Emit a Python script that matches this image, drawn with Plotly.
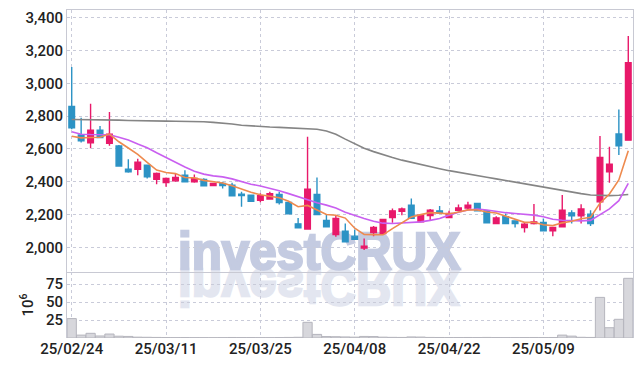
import base64
import plotly.graph_objects as go
from plotly.subplots import make_subplots

dates = ["25/02/24", "25/02/25", "25/02/26", "25/02/27", "25/02/28",
         "25/03/04", "25/03/05", "25/03/06", "25/03/07", "25/03/10",
         "25/03/11", "25/03/12", "25/03/13", "25/03/14", "25/03/17",
         "25/03/18", "25/03/19", "25/03/20", "25/03/21", "25/03/24",
         "25/03/25", "25/03/26", "25/03/27", "25/03/28", "25/03/31",
         "25/04/01", "25/04/02", "25/04/03", "25/04/04", "25/04/07",
         "25/04/08", "25/04/09", "25/04/10", "25/04/11", "25/04/14",
         "25/04/15", "25/04/16", "25/04/17", "25/04/18", "25/04/21",
         "25/04/22", "25/04/23", "25/04/24", "25/04/25", "25/04/28",
         "25/04/29", "25/04/30", "25/05/02", "25/05/07", "25/05/08",
         "25/05/09", "25/05/12", "25/05/13", "25/05/14", "25/05/15",
         "25/05/16", "25/05/19", "25/05/20", "25/05/21", "25/05/22"]

open_ = [2860, 2685, 2638, 2715, 2634, 2618, 2477, 2476, 2502, 2415,
         2396, 2406, 2441, 2400, 2415, 2378, 2390, 2380, 2325, 2319,
         2287, 2295, 2323, 2274, 2144, 2112, 2323, 2165, 2079, 2099,
         2069, 1996, 2091, 2085, 2183, 2221, 2258, 2156, 2195, 2223,
         2183, 2227, 2240, 2268, 2223, 2146, 2187, 2162, 2122, 2146,
         2152, 2101, 2126, 2211, 2193, 2203, 2278, 2461, 2691, 2654]
high = [3100, 2790, 2875, 2740, 2825, 2625, 2537, 2540, 2505, 2457,
        2427, 2450, 2471, 2445, 2421, 2394, 2400, 2394, 2340, 2320,
        2330, 2340, 2340, 2276, 2180, 2675, 2427, 2200, 2197, 2146,
        2110, 2055, 2130, 2173, 2238, 2244, 2299, 2200, 2234, 2252,
        2223, 2262, 2278, 2270, 2227, 2190, 2207, 2165, 2150, 2265,
        2177, 2124, 2319, 2227, 2264, 2227, 2679, 2613, 2841, 3288]
low = [2720, 2640, 2605, 2665, 2620, 2495, 2455, 2440, 2420, 2385,
       2370, 2400, 2398, 2394, 2374, 2376, 2360, 2313, 2248, 2280,
       2275, 2293, 2262, 2203, 2118, 2108, 2200, 2124, 2065, 2030,
       2047, 1984, 2069, 2083, 2150, 2197, 2175, 2154, 2162, 2209,
       2181, 2221, 2227, 2221, 2148, 2144, 2144, 2122, 2091, 2140,
       2099, 2069, 2124, 2146, 2146, 2130, 2225, 2394, 2563, 2650]
close = [2729, 2650, 2715, 2670, 2690, 2496, 2461, 2520, 2430, 2451,
         2421, 2427, 2400, 2421, 2376, 2390, 2378, 2315, 2317, 2282,
         2315, 2327, 2274, 2205, 2120, 2355, 2201, 2126, 2177, 2034,
         2049, 2008, 2122, 2171, 2223, 2234, 2177, 2197, 2227, 2211,
         2207, 2240, 2258, 2223, 2150, 2180, 2146, 2146, 2142, 2156,
         2101, 2122, 2227, 2193, 2234, 2146, 2549, 2508, 2620, 3126]

ma_short = [2678, 2668, 2670, 2672, 2691, 2644, 2606, 2567, 2519, 2472,
            2457, 2450, 2426, 2424, 2409, 2403, 2393, 2376, 2355, 2336,
            2321, 2311, 2303, 2281, 2248, 2256, 2231, 2201, 2196, 2179,
            2117, 2079, 2078, 2077, 2115, 2152, 2185, 2200, 2212, 2209,
            2204, 2216, 2229, 2228, 2216, 2210, 2191, 2169, 2153, 2154,
            2138, 2133, 2150, 2160, 2175, 2184, 2270, 2326, 2411, 2590]
ma_mid = [2705, 2690, 2688, 2689, 2687, 2672, 2655, 2630, 2608, 2577,
          2548, 2515, 2490, 2465, 2447, 2436, 2430, 2418, 2400, 2385,
          2375, 2362, 2345, 2328, 2308, 2288, 2272, 2258, 2240, 2215,
          2195, 2177, 2160, 2148, 2146, 2148, 2152, 2156, 2165, 2177,
          2197, 2215, 2228, 2234, 2228, 2218, 2212, 2207, 2202, 2197,
          2187, 2172, 2166, 2162, 2162, 2165, 2200, 2235, 2285, 2390]
ma_long = [2780, 2780, 2780, 2780, 2779, 2776, 2774, 2772, 2771, 2770,
           2770, 2769, 2769, 2768, 2766, 2762, 2758, 2752, 2745, 2740,
           2736, 2734, 2732, 2729, 2727, 2725, 2720, 2710, 2690, 2660,
           2632, 2605, 2584, 2565, 2548, 2532, 2518, 2505, 2492, 2480,
           2468, 2457, 2447, 2437, 2428, 2418, 2408, 2397, 2386, 2376,
           2366, 2355, 2346, 2337, 2328, 2320, 2316, 2316, 2318, 2323]

volume = [27, 4, 6.5, 2.8, 5.5, 2.5, 2.2, 1.2, 1.0, 0.8,
          0.6, 0.5, 0.6, 0.5, 0.5, 0.4, 0.5, 0.7, 0.6, 0.6,
          0.5, 0.5, 0.6, 0.8, 1.0, 21.8, 5, 2, 1.8, 1.5,
          1.2, 2.2, 2.0, 1.2, 0.9, 0.8, 1.5, 1.3, 0.8, 0.7,
          0.6, 0.6, 0.7, 0.6, 0.8, 0.6, 0.5, 0.5, 0.6, 0.7,
          0.6, 0.7, 4, 2.6, 1.0, 0.8, 56.5, 14.3, 26, 83]

tick_labels = ["25/02/24", "25/03/11", "25/03/25", "25/04/08", "25/04/22", "25/05/09"]
price_ticks = [2000, 2200, 2400, 2600, 2800, 3000, 3200, 3400]
vol_ticks = [25, 50, 75]

RED = "#e8196a"
BLUE = "#2c93c5"
GRID = "#c9cbd9"
LINE = "#c8c9d3"
FONT = "Roboto, Liberation Sans, sans-serif"

fig = make_subplots(rows=2, cols=1, shared_xaxes=True, vertical_spacing=0)

fig.add_trace(go.Scatter(x=dates, y=ma_long, mode="lines",
                         line=dict(color="#858585", width=1.6), hoverinfo="skip",
                         showlegend=False), row=1, col=1)
fig.add_trace(go.Scatter(x=dates, y=ma_mid, mode="lines",
                         line=dict(color="#c95ff0", width=1.6), hoverinfo="skip",
                         showlegend=False), row=1, col=1)
fig.add_trace(go.Scatter(x=dates, y=ma_short, mode="lines",
                         line=dict(color="#ee8a4e", width=1.6), hoverinfo="skip",
                         showlegend=False), row=1, col=1)
fig.add_trace(go.Candlestick(x=dates, open=open_, high=high, low=low, close=close,
                             increasing=dict(line=dict(color=RED, width=1.4), fillcolor=RED),
                             decreasing=dict(line=dict(color=BLUE, width=1.4), fillcolor=BLUE),
                             whiskerwidth=0, showlegend=False), row=1, col=1)
fig.add_trace(go.Bar(x=dates, y=volume, marker=dict(color="#d7d7dc",
                                                    line=dict(color="#b5b5bd", width=1)),
                     showlegend=False), row=2, col=1)

# watermark with reflection
txt_attrs = ('x="0" y="40" textLength="282" lengthAdjust="spacingAndGlyphs" '
             'font-family="Liberation Sans, Arial, sans-serif" font-weight="bold" '
             'font-size="52" stroke-width="2.4" ')
svg = (
    '<svg xmlns="http://www.w3.org/2000/svg" width="300" height="84" viewBox="0 0 300 84">'
    '<g transform="translate(0,80) scale(1,-1)">'
    '<text ' + txt_attrs + 'fill="#e3e6f0" stroke="#e3e6f0">investCRUX</text></g>'
    '<text ' + txt_attrs + 'fill="#c4cbe1" stroke="#c4cbe1">investCRUX</text>'
    '</svg>'
)
src = "data:image/svg+xml;base64," + base64.b64encode(svg.encode()).decode()

# page has an 8px body margin; figure coords = page coords - 8
L, T = 59, 2
PW, PH = 566.0, 328.0
fig.add_layout_image(dict(source=src, xref="paper", yref="paper",
                          x=(170 - L) / PW, y=(T + PH - 221) / PH,
                          sizex=300 / PW, sizey=84 / PH, sizing="stretch",
                          xanchor="left", yanchor="top", layer="below"))

fig.update_layout(
    width=634, height=358,
    margin=dict(l=L, r=9, t=T, b=28),
    paper_bgcolor="white", plot_bgcolor="rgba(0,0,0,0)",
    font=dict(family=FONT, size=15, color="#222222", weight=500),
    showlegend=False, bargap=0.02, boxgap=0.15,
    xaxis=dict(type="category", range=[-0.5, 59.5], rangeslider=dict(visible=False),
               showticklabels=False, showgrid=True, gridcolor=GRID, griddash="dot",
               tickvals=tick_labels, showline=True, mirror=True, linecolor=LINE,
               linewidth=1, ticks=""),
    xaxis2=dict(type="category", range=[-0.5, 59.5], tickvals=tick_labels,
                ticktext=tick_labels, showgrid=True, gridcolor=GRID, griddash="dot",
                showline=False, ticks="", tickangle=0),
    yaxis=dict(domain=[0.201, 1], range=[1850, 3447], tickvals=price_ticks,
               tickformat=",d", showgrid=True, gridcolor=GRID, griddash="dot",
               showline=True, mirror=True, linecolor=LINE, ticks="", zeroline=False),
    yaxis2=dict(domain=[0, 0.201], range=[0, 91.7], tickvals=vol_ticks,
                showgrid=True, gridcolor=GRID, griddash="dot", showline=True,
                mirror=True, linecolor=LINE, ticks="", zeroline=False,
                title=dict(text="10<sup>6</sup>", font=dict(size=15), standoff=8)),
)

fig.write_html("out.html")
